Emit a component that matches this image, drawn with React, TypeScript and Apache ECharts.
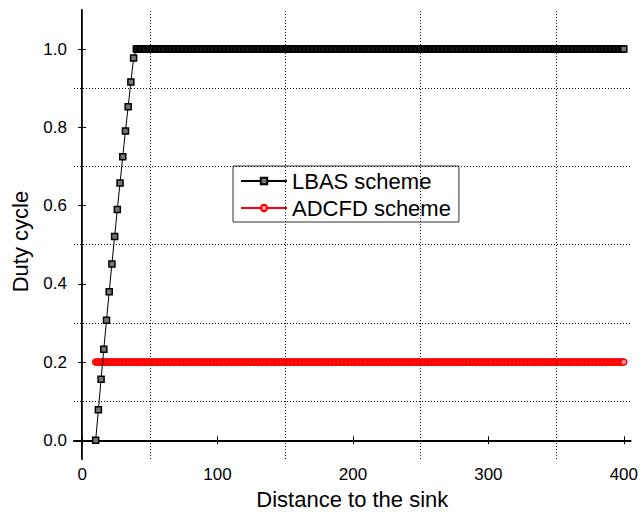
import React, { useEffect, useRef } from "react";
import * as echarts from "echarts";

// ---- data ----
const xTicks = [0, 100, 200, 300, 400];
const yTicks = [0, 0.2, 0.4, 0.6, 0.8, 1.0];
const xGridLines = [50, 150, 250, 350];
const yGridLines = [0.1, 0.3, 0.5, 0.7, 0.9];

// LBAS scheme: rising part (distance, duty cycle)
const lbasRiseX = [10, 12, 14, 16, 18, 20, 22, 24, 26, 28, 30, 32, 34, 36, 38];
const lbasRiseY = [0, 0.078, 0.156, 0.233, 0.307, 0.38, 0.451, 0.521, 0.59, 0.658, 0.725, 0.791, 0.853, 0.916, 0.977];
// LBAS scheme: plateau at 1.0 from distance 40 to 400 (one sample per unit distance)
const lbasPlateauStart = 40;
const lbasPlateauEnd = 400;
const lbasPlateauValue = 1.0;
// ADCFD scheme: constant 0.2 from distance 10 to 400 (one sample per unit distance)
const adcfdStart = 10;
const adcfdEnd = 400;
const adcfdValue = 0.2;
const sampleStep = 1;

const FONT = "'Liberation Sans', Arial, Helvetica, sans-serif";

function samples(start: number, end: number, step: number, value: number): number[][] {
  const out: number[][] = [];
  for (let x = start; x <= end; x += step) out.push([x, value]);
  return out;
}

export default function App() {
  const ref = useRef<HTMLDivElement>(null);
  useEffect(() => {
    document.body.style.margin = "0";
    if (!ref.current) return;
    const chart = echarts.init(ref.current, undefined, { renderer: "svg" });

    const lbasData = lbasRiseX.map((x, i) => [x, lbasRiseY[i]]).concat(
      samples(lbasPlateauStart, lbasPlateauEnd, sampleStep, lbasPlateauValue)
    );
    const adcfdData = samples(adcfdStart, adcfdEnd, sampleStep, adcfdValue);

    const xMin = -6;
    const xMax = 405;
    const yMin = -0.048;
    const yMax = 1.1;

    const gridLine = { type: [1, 2] as any, color: "#000", width: 1 };

    chart.setOption({
      animation: false,
      backgroundColor: "#fff",
      textStyle: { fontFamily: FONT },
      grid: { left: 74, right: 10, top: 10, bottom: 51, containLabel: false },
      legend: {
        data: ["LBAS scheme", "ADCFD scheme"],
        orient: "vertical",
        left: 233,
        top: 166,
        padding: [4, 8, 3, 7],
        itemGap: 5,
        itemWidth: 46,
        itemHeight: 8,
        borderColor: "#333",
        borderWidth: 1,
        backgroundColor: "#fff",
        textStyle: { fontSize: 22, color: "#000", fontFamily: FONT },
      },
      xAxis: [
        {
          type: "value",
          min: xMin,
          max: xMax,
          name: "Distance to the sink",
          nameLocation: "middle",
          nameGap: 27,
          nameTextStyle: { fontSize: 22, color: "#000", fontFamily: FONT },
          axisLine: { show: true, lineStyle: { color: "#000", width: 2 } },
          axisTick: { show: true, inside: true, length: 4, customValues: xTicks, lineStyle: { color: "#000" } },
          axisLabel: { show: true, customValues: xTicks, fontSize: 17, color: "#000", margin: 7, fontFamily: FONT },
          splitLine: { show: false },
        },
        {
          type: "value",
          position: "top",
          min: xMin,
          max: xMax,
          axisLine: { show: true, lineStyle: { color: "#000", width: 1 } },
          axisTick: { show: true, inside: true, length: 4, customValues: xTicks, lineStyle: { color: "#000" } },
          axisLabel: { show: false },
          splitLine: { show: false },
        },
      ],
      yAxis: [
        {
          type: "value",
          min: yMin,
          max: yMax,
          name: "Duty cycle",
          nameLocation: "middle",
          nameRotate: 90,
          nameGap: 43,
          nameTextStyle: { fontSize: 22, color: "#000", fontFamily: FONT, padding: [0, 14, 0, 0] },
          axisLine: { show: true, lineStyle: { color: "#000", width: 2 } },
          axisTick: { show: true, inside: true, length: 4, customValues: yTicks, lineStyle: { color: "#000" } },
          axisLabel: {
            show: true,
            customValues: yTicks,
            fontSize: 17,
            color: "#000",
            margin: 7,
            fontFamily: FONT,
            formatter: (v: number) => v.toFixed(1),
          },
          splitLine: { show: false },
        },
        {
          type: "value",
          position: "right",
          min: yMin,
          max: yMax,
          axisLine: { show: true, lineStyle: { color: "#333", width: 1 } },
          axisTick: { show: true, inside: true, length: 4, customValues: yTicks, lineStyle: { color: "#000" } },
          axisLabel: { show: false },
          splitLine: { show: false },
        },
      ],
      series: [
        {
          name: "grid",
          type: "line",
          data: [],
          silent: true,
          z: 1,
          markLine: {
            silent: true,
            symbol: "none",
            label: { show: false },
            lineStyle: gridLine,
            data: [
              ...xGridLines.map((v) => ({ xAxis: v })),
              ...yGridLines.map((v) => ({ yAxis: v })),
            ],
          },
        },
        {
          name: "ADCFD scheme",
          type: "line",
          data: adcfdData,
          z: 3,
          symbol: "circle",
          symbolSize: 6,
          showAllSymbol: true,
          lineStyle: { color: "#ff0000", width: 1 },
          itemStyle: { color: "#ff9a9a", borderColor: "#ff0000", borderWidth: 1.5 },
        },
        {
          name: "LBAS scheme",
          type: "line",
          data: lbasData,
          z: 4,
          symbol: "rect",
          symbolSize: 6,
          showAllSymbol: true,
          lineStyle: { color: "#000", width: 1 },
          itemStyle: { color: "#777", borderColor: "#000", borderWidth: 1.5 },
        },
      ],
    });
    return () => chart.dispose();
  }, []);
  return <div ref={ref} style={{ width: 641, height: 515 }} />;
}
